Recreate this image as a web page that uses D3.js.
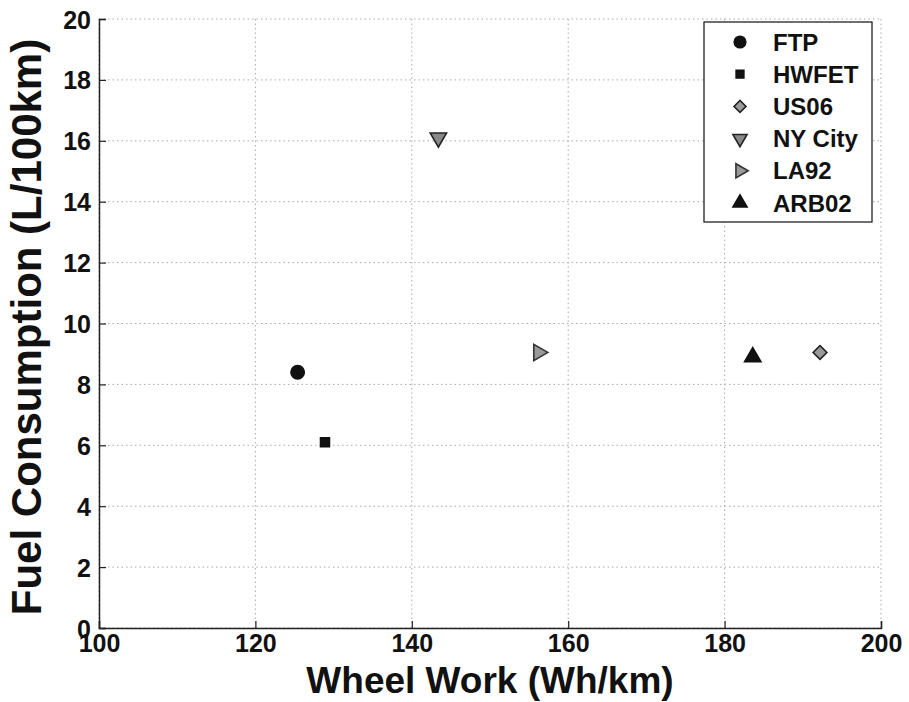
<!DOCTYPE html>
<html>
<head>
<meta charset="utf-8">
<script src="https://cdn.jsdelivr.net/npm/d3@7"></script>
<style>
  body { margin: 0; background: #fff; }
  svg text { font-family: Arial, "Liberation Sans", sans-serif; font-weight: bold; fill: #111; }
</style>
</head>
<body>
<svg id="chart" width="909" height="702"></svg>
<script>
// Drive cycles and their measured values
const cycles = ["FTP", "HWFET", "US06", "NY City", "LA92", "ARB02"];
const wheelWork = [125.4, 128.9, 192.2, 143.4, 156.2, 183.6];   // Wh/km
const fuelUse   = [8.4, 6.1, 9.05, 16.1, 9.05, 8.9];             // L/100km

const xTicks = [100, 120, 140, 160, 180, 200];
const yTicks = [0, 2, 4, 6, 8, 10, 12, 14, 16, 18, 20];

// Marker styling per cycle
const shapes = ["circle", "square", "diamond", "triDown", "triRight", "triUp"];
const fills  = ["#111", "#111", "#999", "#888", "#999", "#111"];
const strokes = ["#111", "#111", "#222", "#222", "#333", "#111"];

const svg = d3.select("#chart");
const plotLeft = 99, plotRight = 881, plotTop = 19, plotBottom = 628;

const x = d3.scaleLinear().domain([100, 200]).range([plotLeft, plotRight]);
const y = d3.scaleLinear().domain([0, 20]).range([plotBottom, plotTop]);

// Dotted grid
const grid = svg.append("g");
grid.selectAll(".gx").data(xTicks).join("line")
  .attr("x1", d => x(d)).attr("x2", d => x(d))
  .attr("y1", plotTop).attr("y2", plotBottom)
  .attr("stroke", "#aaa").attr("stroke-width", 1).attr("stroke-dasharray", "1.5,3");
grid.selectAll(".gy").data(yTicks).join("line")
  .attr("x1", plotLeft).attr("x2", plotRight)
  .attr("y1", d => y(d)).attr("y2", d => y(d))
  .attr("stroke", "#aaa").attr("stroke-width", 1).attr("stroke-dasharray", "1.5,3");

// Axes with inward ticks
const xAxis = svg.append("g").attr("transform", `translate(0,${plotBottom})`)
  .call(d3.axisBottom(x).tickValues(xTicks).tickSize(-7).tickPadding(6).tickFormat(d3.format("d")));
const yAxis = svg.append("g").attr("transform", `translate(${plotLeft},0)`)
  .call(d3.axisLeft(y).tickValues(yTicks).tickSize(-7).tickPadding(8).tickFormat(d3.format("d")));
[xAxis, yAxis].forEach(a => {
  a.select(".domain").attr("stroke", "#222").attr("stroke-width", 1.5);
  a.selectAll(".tick line").attr("stroke", "#222").attr("stroke-width", 1.2);
  a.selectAll("text").style("font-size", "25px").attr("fill", "#111");
});
xAxis.selectAll("text").attr("dy", "0.71em");
yAxis.selectAll("text").attr("dy", "0.36em");

// Symbol generators (diamond is drawn as a square turned 45 degrees)
function symbolPath(s, scale) {
  const k = scale;
  switch (s) {
    case "circle":   return d3.symbol().type(d3.symbolCircle).size(140 * k)();
    case "square":   return d3.symbol().type(d3.symbolSquare).size(80 * k)();
    case "diamond":  return d3.symbol().type(d3.symbolSquare).size(95 * k)();
    default:         return d3.symbol().type(d3.symbolTriangle).size(115 * k)();
  }
}
const rot = { diamond: 45, triDown: 180, triRight: 90 };

function drawMarker(g, i, cx, cy, scale) {
  const s = shapes[i];
  g.append("path")
    .attr("d", symbolPath(s, scale))
    .attr("transform", `translate(${cx},${cy}) rotate(${rot[s] || 0})`)
    .attr("fill", fills[i])
    .attr("stroke", strokes[i])
    .attr("stroke-width", 1.6);
}

// Data points
const pts = svg.append("g");
cycles.forEach((c, i) => drawMarker(pts, i, x(wheelWork[i]), y(fuelUse[i]), 1));

// Legend
const lg = svg.append("g");
lg.append("rect").attr("x", 704).attr("y", 22).attr("width", 168).attr("height", 200)
  .attr("fill", "#fff").attr("stroke", "#222").attr("stroke-width", 1.3);
cycles.forEach((c, i) => {
  const ly = 42 + i * 32.2;
  drawMarker(lg, i, 740, ly, 0.75);
  lg.append("text").attr("x", 773).attr("y", ly).attr("dy", "0.36em")
    .style("font-size", "24px").text(c);
});

// Axis titles
svg.append("text").attr("x", 490).attr("y", 693).attr("text-anchor", "middle")
  .style("font-size", "37px").text("Wheel Work (Wh/km)");
svg.append("text").attr("transform", "translate(41,327) rotate(-90)")
  .attr("text-anchor", "middle").style("font-size", "42px").text("Fuel Consumption (L/100km)");
</script>
</body>
</html>
